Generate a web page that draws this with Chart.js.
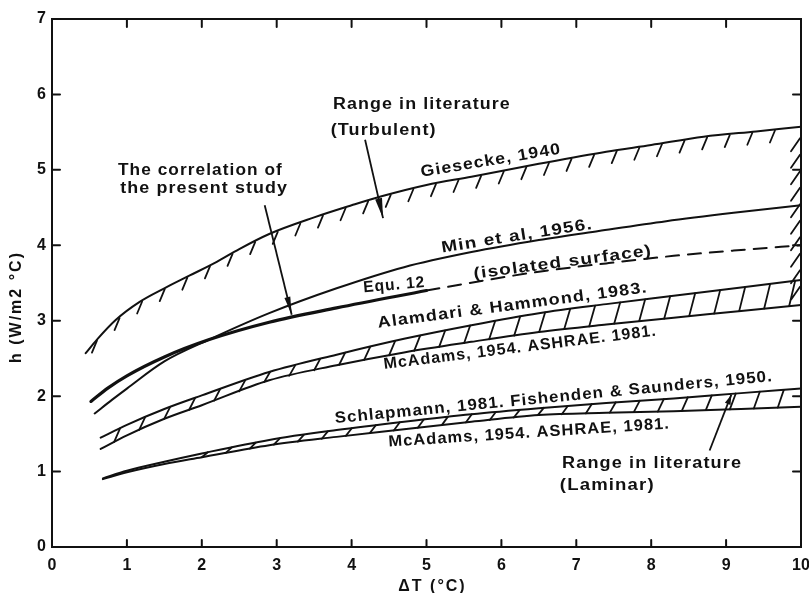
<!DOCTYPE html>
<html>
<head>
<meta charset="utf-8">
<script src="https://cdn.jsdelivr.net/npm/chart.js@4.4.1/dist/chart.umd.min.js"></script>
<style>
  html, body { margin: 0; padding: 0; background: #fff; }
  canvas { display: block; }
</style>
</head>
<body>
<canvas id="chart" width="809" height="593"></canvas>
<script>
// Convective heat transfer coefficient h (W/m2 °C) against temperature difference ΔT (°C)

const xTicks = [0, 1, 2, 3, 4, 5, 6, 7, 8, 9, 10];
const yTicks = [0, 1, 2, 3, 4, 5, 6, 7];

// Giesecke, 1940 (upper limit of the turbulent range)
const gieseckeT = [0.45, 0.6, 0.85, 1.17, 1.5, 1.84, 2.2, 2.5, 2.9, 3.5, 4.0, 4.4, 5.0, 5.6, 6.5, 7.4, 8.0, 8.7, 9.4, 10];
const gieseckeH = [2.57, 2.75, 3.01, 3.25, 3.43, 3.60, 3.78, 3.95, 4.15, 4.37, 4.53, 4.65, 4.80, 4.91, 5.08, 5.24, 5.33, 5.44, 5.51, 5.57];

// Min et al, 1956
const minT = [0.57, 0.8, 1.0, 1.5, 2.1, 2.9, 3.8, 4.7, 5.6, 6.5, 7.3, 8.2, 9.1, 10];
const minH = [1.77, 1.95, 2.10, 2.46, 2.75, 3.10, 3.43, 3.71, 3.91, 4.07, 4.19, 4.32, 4.43, 4.53];

// Equ. 12, the correlation of the present study (measured range)
const equT = [0.52, 0.75, 1.0, 1.5, 2.1, 2.9, 3.8, 5.0];
const equH = [1.93, 2.11, 2.27, 2.52, 2.75, 2.98, 3.17, 3.40];

// Equ. 12 extended, isolated surface
const isoT = [5.0, 5.75, 6.5, 7.4, 8.3, 9.1, 10];
const isoH = [3.40, 3.53, 3.65, 3.76, 3.86, 3.93, 4.00];

// Turbulent band: Alamdari & Hammond 1983 (upper), McAdams 1954 / ASHRAE 1981 (lower)
const turbT = [0.65, 1.0, 1.5, 2.0, 2.9, 3.8, 4.7, 5.6, 6.5, 7.4, 8.3, 9.2, 10];
const alamdariH = [1.45, 1.62, 1.83, 2.01, 2.32, 2.55, 2.76, 2.94, 3.10, 3.22, 3.33, 3.44, 3.54];
const mcAdamsTurbH = [1.30, 1.48, 1.70, 1.88, 2.21, 2.41, 2.58, 2.72, 2.85, 2.95, 3.04, 3.13, 3.21];

// Laminar band: Schlapmann 1981 / Fishenden & Saunders 1950 (upper), McAdams 1954 / ASHRAE 1981 (lower)
const lamT = [0.68, 1.0, 1.5, 2.0, 2.9, 3.8, 4.7, 5.6, 6.5, 7.4, 8.3, 9.2, 10];
const schlapmannH = [0.91, 1.01, 1.13, 1.24, 1.42, 1.55, 1.66, 1.76, 1.84, 1.91, 1.97, 2.04, 2.10];
const mcAdamsLamH = [0.90, 0.99, 1.10, 1.19, 1.35, 1.46, 1.56, 1.66, 1.75, 1.78, 1.80, 1.83, 1.86];

const FONT = '"Liberation Sans", Arial, sans-serif';
const INK = '#111';

const toPoints = (xs, ys) => xs.map((x, i) => ({ x, y: ys[i] }));
function curve(label, xs, ys, width, dash) {
  return {
    label,
    data: toPoints(xs, ys),
    borderColor: INK,
    borderWidth: width,
    borderDash: dash || [],
    borderCapStyle: 'round',
    pointRadius: 0,
    fill: false,
    cubicInterpolationMode: 'monotone'
  };
}

function along(xs, ys, v) {
  if (v <= xs[0]) return ys[0];
  for (let i = 1; i < xs.length; i++) {
    if (v <= xs[i]) {
      const t = (v - xs[i - 1]) / (xs[i] - xs[i - 1]);
      return ys[i - 1] + t * (ys[i] - ys[i - 1]);
    }
  }
  return ys[ys.length - 1];
}

// text notes placed in data coordinates
const notes = [
  { text: 'Range in literature', x: 3.75, y: 5.86, align: 'left', width: 178 },
  { text: '(Turbulent)', x: 3.72, y: 5.52, align: 'left', width: 106 },
  { text: 'The correlation of', x: 0.88, y: 4.99, align: 'left', width: 165 },
  { text: 'the present study', x: 0.91, y: 4.75, align: 'left', width: 168 },
  { text: 'Giesecke, 1940', x: 5.86, y: 5.12, angle: -9.5, width: 142 },
  { text: 'Min et al, 1956.', x: 6.21, y: 4.12, angle: -9, width: 153 },
  { text: 'Equ. 12', x: 4.57, y: 3.47, angle: -5, width: 62 },
  { text: '(isolated surface)', x: 6.82, y: 3.77, angle: -7.5, width: 180 },
  { text: 'Alamdari & Hammond, 1983.', x: 6.15, y: 3.20, angle: -7.5, width: 272 },
  { text: 'McAdams, 1954. ASHRAE. 1981.', x: 6.25, y: 2.64, angle: -7, width: 275 },
  { text: 'Schlapmann, 1981. Fishenden & Saunders, 1950.', x: 6.70, y: 1.98, angle: -5.5, width: 440 },
  { text: 'McAdams, 1954. ASHRAE, 1981.', x: 6.37, y: 1.51, angle: -3.7, width: 282 },
  { text: 'Range in literature', x: 6.81, y: 1.11, align: 'left', width: 180 },
  { text: '(Laminar)', x: 6.78, y: 0.81, align: 'left', width: 95 }
];

// pointer arrows: from (x1,y1) to tip (x2,y2)
const pointers = [
  { x1: 2.84, y1: 4.53, x2: 3.20, y2: 3.08, head: 18, headW: 6 },
  { x1: 4.18, y1: 5.40, x2: 4.42, y2: 4.36, head: 20, headW: 7 },
  { x1: 8.78, y1: 1.28, x2: 9.07, y2: 2.02, head: 10, headW: 6 }
];

function drawNote(ctx, n, xs, ys) {
  const px = xs.getPixelForValue(n.x), py = ys.getPixelForValue(n.y);
  ctx.save();
  ctx.font = `bold 16px ${FONT}`;
  if ('letterSpacing' in ctx) ctx.letterSpacing = '1px';
  const w = ctx.measureText(n.text).width;
  ctx.translate(px, py);
  ctx.rotate((n.angle || 0) * Math.PI / 180);
  if (n.width) ctx.scale(n.width / w, 1);
  ctx.fillStyle = INK;
  ctx.textBaseline = 'middle';
  ctx.textAlign = n.align || 'center';
  ctx.fillText(n.text, 0, 0);
  ctx.restore();
}

function drawPointer(ctx, a, xs, ys) {
  const x1 = xs.getPixelForValue(a.x1), y1 = ys.getPixelForValue(a.y1);
  const x2 = xs.getPixelForValue(a.x2), y2 = ys.getPixelForValue(a.y2);
  const ang = Math.atan2(y2 - y1, x2 - x1);
  ctx.save();
  ctx.strokeStyle = INK; ctx.fillStyle = INK; ctx.lineWidth = 1.8;
  ctx.beginPath(); ctx.moveTo(x1, y1); ctx.lineTo(x2, y2); ctx.stroke();
  const bx = x2 - a.head * Math.cos(ang), by = y2 - a.head * Math.sin(ang);
  const nx = -Math.sin(ang) * a.headW / 2, ny = Math.cos(ang) * a.headW / 2;
  ctx.beginPath();
  ctx.moveTo(x2, y2); ctx.lineTo(bx + nx, by + ny); ctx.lineTo(bx - nx, by - ny);
  ctx.closePath(); ctx.fill();
  ctx.restore();
}

const paperPlugin = {
  id: 'paper',
  afterDatasetsDraw(chart) {
    const { ctx, chartArea: ca, scales: { x: xs, y: ys } } = chart;
    const X = v => xs.getPixelForValue(v), Y = v => ys.getPixelForValue(v);
    ctx.save();
    ctx.strokeStyle = INK;
    ctx.lineCap = 'round';

    // frame
    ctx.lineWidth = 2;
    ctx.strokeRect(ca.left, ca.top, ca.right - ca.left, ca.bottom - ca.top);

    // inward tick marks on all four sides
    ctx.beginPath();
    xTicks.forEach(t => {
      const px = X(t);
      ctx.moveTo(px, ca.bottom); ctx.lineTo(px, ca.bottom - 7);
      ctx.moveTo(px, ca.top); ctx.lineTo(px, ca.top + 8);
    });
    yTicks.forEach(t => {
      const py = Y(t);
      ctx.moveTo(ca.left, py); ctx.lineTo(ca.left + 8, py);
      ctx.moveTo(ca.right, py); ctx.lineTo(ca.right - 8, py);
    });
    ctx.stroke();

    // hatching under the Giesecke curve
    ctx.lineWidth = 1.8;
    ctx.beginPath();
    for (let px = X(0.6); px < X(9.9); px += 22.6) {
      const py = Y(along(gieseckeT, gieseckeH, xs.getValueForPixel(px)));
      ctx.moveTo(px, py + 1); ctx.lineTo(px - 5, py + 13);
    }
    // hatching along the right edge between the turbulent limits
    for (let py = Y(5.42); py <= Y(3.3); py += 16.5) {
      ctx.moveTo(ca.right - 1, py); ctx.lineTo(ca.right - 10, py + 13);
    }
    // hatching inside the turbulent band
    for (let px = X(0.83); px < X(9.85); px += 25) {
      const lo = Y(along(turbT, mcAdamsTurbH, xs.getValueForPixel(px)));
      const hi = Y(along(turbT, alamdariH, xs.getValueForPixel(px + 6)));
      ctx.moveTo(px, lo); ctx.lineTo(px + 6, hi);
    }
    // hatching inside the laminar band
    for (let px = X(2.0); px < X(9.85); px += 24) {
      const lo = Y(along(lamT, mcAdamsLamH, xs.getValueForPixel(px)));
      const hi = Y(along(lamT, schlapmannH, xs.getValueForPixel(px + 6)));
      ctx.moveTo(px, lo); ctx.lineTo(px + 6, hi);
    }
    ctx.stroke();
    ctx.restore();

    pointers.forEach(a => drawPointer(ctx, a, xs, ys));
    notes.forEach(n => drawNote(ctx, n, xs, ys));

    // axis titles
    ctx.save();
    ctx.fillStyle = INK;
    ctx.font = `bold 16px ${FONT}`;
    if ('letterSpacing' in ctx) ctx.letterSpacing = '2px';
    ctx.textAlign = 'center';
    ctx.textBaseline = 'alphabetic';
    ctx.fillText('ΔT (°C)', (ca.left + ca.right) / 2 + 6, 591);
    ctx.translate(21, 307);
    ctx.rotate(-Math.PI / 2);
    ctx.fillText('h (W/m2 °C)', 0, 0);
    ctx.restore();
  }
};

new Chart(document.getElementById('chart'), {
  type: 'line',
  data: {
    datasets: [
      curve('Giesecke, 1940', gieseckeT, gieseckeH, 2),
      curve('Min et al, 1956', minT, minH, 2),
      curve('Equ. 12', equT, equH, 3.2),
      curve('Equ. 12 (isolated surface)', isoT, isoH, 2, [13, 9]),
      curve('Alamdari & Hammond, 1983', turbT, alamdariH, 2),
      curve('McAdams, 1954. ASHRAE, 1981 (turbulent)', turbT, mcAdamsTurbH, 2),
      curve('Schlapmann, 1981. Fishenden & Saunders, 1950', lamT, schlapmannH, 2),
      curve('McAdams, 1954. ASHRAE, 1981 (laminar)', lamT, mcAdamsLamH, 2)
    ]
  },
  options: {
    responsive: false,
    animation: false,
    devicePixelRatio: 1,
    layout: { padding: { left: 0, top: 19, right: 8, bottom: 0 } },
    plugins: { legend: { display: false }, tooltip: { enabled: false } },
    scales: {
      x: {
        type: 'linear', min: 0, max: 10,
        afterBuildTicks: s => { s.ticks = xTicks.map(v => ({ value: v })); },
        ticks: { color: INK, font: { family: FONT, size: 16, weight: 'bold' }, padding: 9, maxRotation: 0 },
        grid: { display: false, drawTicks: false },
        border: { display: false },
        afterFit: s => { s.height = 46; s.paddingLeft = 0; s.paddingRight = 0; }
      },
      y: {
        type: 'linear', min: 0, max: 7,
        afterBuildTicks: s => { s.ticks = yTicks.map(v => ({ value: v })); },
        ticks: { color: INK, font: { family: FONT, size: 16, weight: 'bold' }, padding: 6 },
        grid: { display: false, drawTicks: false },
        border: { display: false },
        afterFit: s => { s.width = 52; s.paddingTop = 0; s.paddingBottom = 0; }
      }
    }
  },
  plugins: [paperPlugin]
});
</script>
</body>
</html>
